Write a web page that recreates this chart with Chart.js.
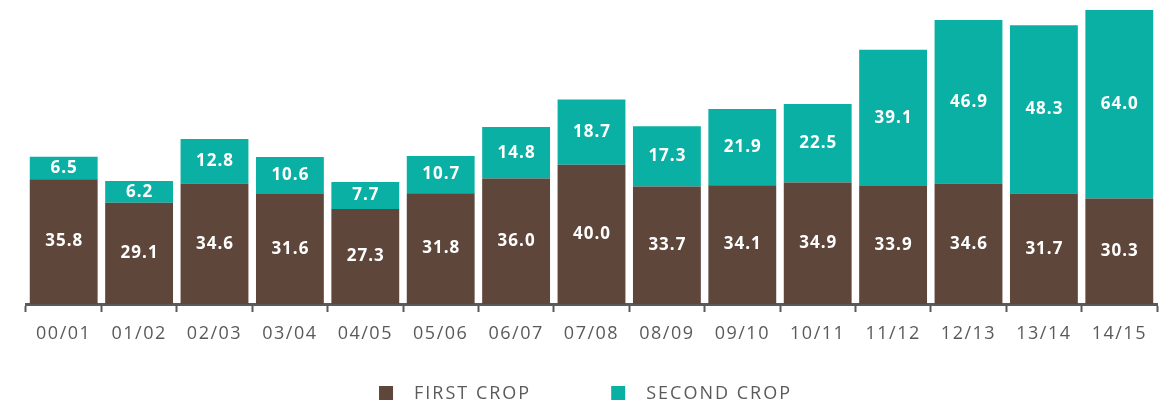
<!DOCTYPE html>
<html>
<head>
<meta charset="utf-8">
<script src="https://cdn.jsdelivr.net/npm/chart.js@4/dist/chart.umd.min.js"></script>
<style>
  html, body { margin: 0; padding: 0; background: #fff; }
  #wrap { width: 1171px; height: 404px; position: relative; }
</style>
</head>
<body>
<div id="wrap"><canvas id="cropChart"></canvas></div>
<script>
const seasons = ['00/01', '01/02', '02/03', '03/04', '04/05', '05/06', '06/07', '07/08',
  '08/09', '09/10', '10/11', '11/12', '12/13', '13/14', '14/15'];
const firstCrop = [35.8, 29.1, 34.6, 31.6, 27.3, 31.8, 36.0, 40.0, 33.7, 34.1, 34.9, 33.9, 34.6, 31.7, 30.3];
const secondCrop = [6.5, 6.2, 12.8, 10.6, 7.7, 10.7, 14.8, 18.7, 17.3, 21.9, 22.5, 39.1, 46.9, 48.3, 64.0];
const seriesNames = ['FIRST CROP', 'SECOND CROP'];

const brown = '#5f463b';
const teal = '#0bb0a5';
const grey = '#5a5a5a';
const fontFamily = "'Open Sans', 'Noto Sans', sans-serif";

// wider letter spacing for the axis labels (the original uses a wide font)
const spacing = {
  id: 'spacing',
  beforeDraw(chart) {
    chart.ctx.letterSpacing = '1.5px';
  }
};

// white value labels in the middle of each visible segment
const valueLabels = {
  id: 'valueLabels',
  afterDatasetsDraw(chart) {
    const ctx = chart.ctx;
    const area = chart.chartArea;
    ctx.save();
    ctx.letterSpacing = '1px';
    ctx.fillStyle = '#fff';
    ctx.font = 'bold 17px ' + fontFamily;
    ctx.textAlign = 'center';
    ctx.textBaseline = 'middle';
    chart.data.datasets.forEach((ds, i) => {
      chart.getDatasetMeta(i).data.forEach((bar, j) => {
        const top = Math.max(bar.y, area.top);
        const bottom = Math.min(bar.base, area.bottom);
        ctx.fillText(ds.data[j].toFixed(1), bar.x + 0.5, (top + bottom) / 2);
      });
    });
    ctx.restore();
  }
};

// legend drawn below the axis
const bottomLegend = {
  id: 'bottomLegend',
  afterDraw(chart) {
    const ctx = chart.ctx;
    ctx.save();
    ctx.letterSpacing = '2px';
    ctx.font = '18px ' + fontFamily;
    ctx.textBaseline = 'middle';
    const box = 14, gapText = 21, gapItem = 80;
    const items = chart.data.datasets.map(ds => ({ label: ds.label, color: ds.backgroundColor }));
    let totalW = 0;
    items.forEach((it, i) => {
      it.w = box + gapText + ctx.measureText(it.label).width;
      totalW += it.w + (i > 0 ? gapItem : 0);
    });
    let x = chart.width / 2 - totalW / 2;
    const y = 393;
    items.forEach(it => {
      ctx.fillStyle = it.color;
      ctx.fillRect(x, y - box / 2, box, box);
      ctx.fillStyle = grey;
      ctx.fillText(it.label, x + box + gapText, y + 1);
      x += it.w + gapItem;
    });
    ctx.restore();
  }
};

new Chart(document.getElementById('cropChart'), {
  type: 'bar',
  data: {
    labels: seasons,
    datasets: [
      { label: seriesNames[0], data: firstCrop, backgroundColor: brown },
      { label: seriesNames[1], data: secondCrop, backgroundColor: teal }
    ]
  },
  options: {
    responsive: true,
    maintainAspectRatio: false,
    animation: false,
    datasets: { bar: { barPercentage: 0.9, categoryPercentage: 1 } },
    layout: { padding: { left: 26, right: 14, top: 10, bottom: 0 } },
    plugins: {
      legend: { display: false },
      tooltip: { enabled: false }
    },
    scales: {
      x: {
        stacked: true,
        grid: {
          offset: true,
          drawOnChartArea: false,
          drawTicks: true,
          tickLength: 8,
          tickWidth: 2,
          tickColor: grey
        },
        border: { display: true, color: grey, width: 3 },
        ticks: {
          color: grey,
          padding: 11,
          font: { family: fontFamily, size: 18 },
          maxRotation: 0,
          autoSkip: false
        },
        afterFit(scale) { scale.height = 100; }
      },
      y: {
        stacked: true,
        display: false,
        min: 0,
        max: 84.4
      }
    }
  },
  plugins: [spacing, valueLabels, bottomLegend]
});
</script>
</body>
</html>
